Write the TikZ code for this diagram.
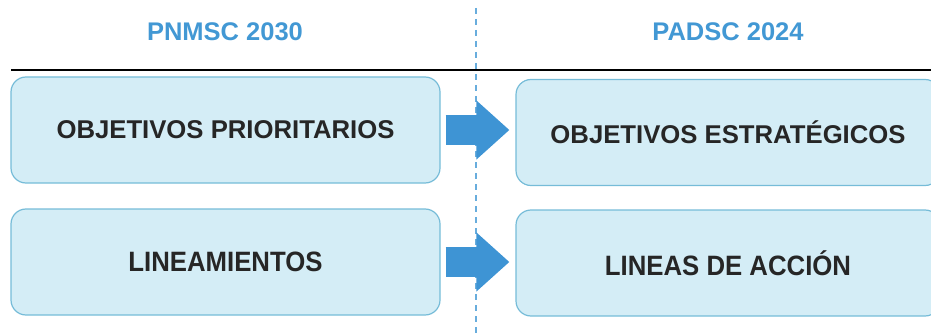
\documentclass[tikz,border=0pt]{standalone}
\usepackage{fontspec}
\setmainfont{Liberation Sans}
\newfontfamily\narrowfont[FakeStretch=0.92]{Liberation Sans}
\usetikzlibrary{arrows.meta}
\definecolor{titleblue}{RGB}{66,152,212}
\definecolor{arrowblue}{RGB}{62,148,212}
\definecolor{boxfill}{RGB}{212,237,246}
\definecolor{boxline}{RGB}{118,188,216}
\definecolor{ink}{RGB}{38,38,38}
\tikzset{
	title/.style={text=titleblue,font=\bfseries\fontsize{25.5}{28}\selectfont},
	panel/.style={draw=boxline,line width=1.2pt,fill=boxfill,rounded corners=15pt,
		minimum width=429pt,minimum height=106pt,text=ink,inner sep=0pt},
	toptext/.style={font=\bfseries\fontsize{25.7}{28}\selectfont},
	lowtext/.style={font=\narrowfont\bfseries\fontsize{28}{30}\selectfont},
	flow/.style={draw=arrowblue,line width=30pt,shorten <=5pt,shorten >=6pt,
		-{Triangle[length=33pt,width=57pt,fill=arrowblue]}}
}
\begin{document}
\begin{tikzpicture}[x=1pt,y=-1pt]
	\useasboundingbox (0,0) rectangle (931,334);
	\clip (0,0) rectangle (931,334);
	% headings
	\node[title] (pnmsc) at (225,32) {PNMSC 2030};
	\node[title] (padsc) at (728,32) {PADSC 2024};
	\draw[line width=2.5pt] (11,70) -- (931,70);
	\draw[titleblue!80,line width=1.5pt,dash pattern=on 6pt off 5pt] (476,8) -- (476,334);
	% boxes
	\node[panel,toptext] (prio) at (225.5,130) {OBJETIVOS PRIORITARIOS};
	\node[panel,toptext,minimum width=424pt] (estr) at (728,132.5) {OBJETIVOS ESTRAT\'EGICOS};
	\node[panel,lowtext] (linea) at (225.5,262) {LINEAMIENTOS};
	\node[panel,lowtext,minimum width=424pt] (accion) at (728,263) {LINEAS DE ACCI\'ON};
	% arrows
	\draw[flow] (prio.east) -- (prio.east -| estr.west);
	\draw[flow] (linea.east) -- (linea.east -| accion.west);
\end{tikzpicture}
\end{document}
